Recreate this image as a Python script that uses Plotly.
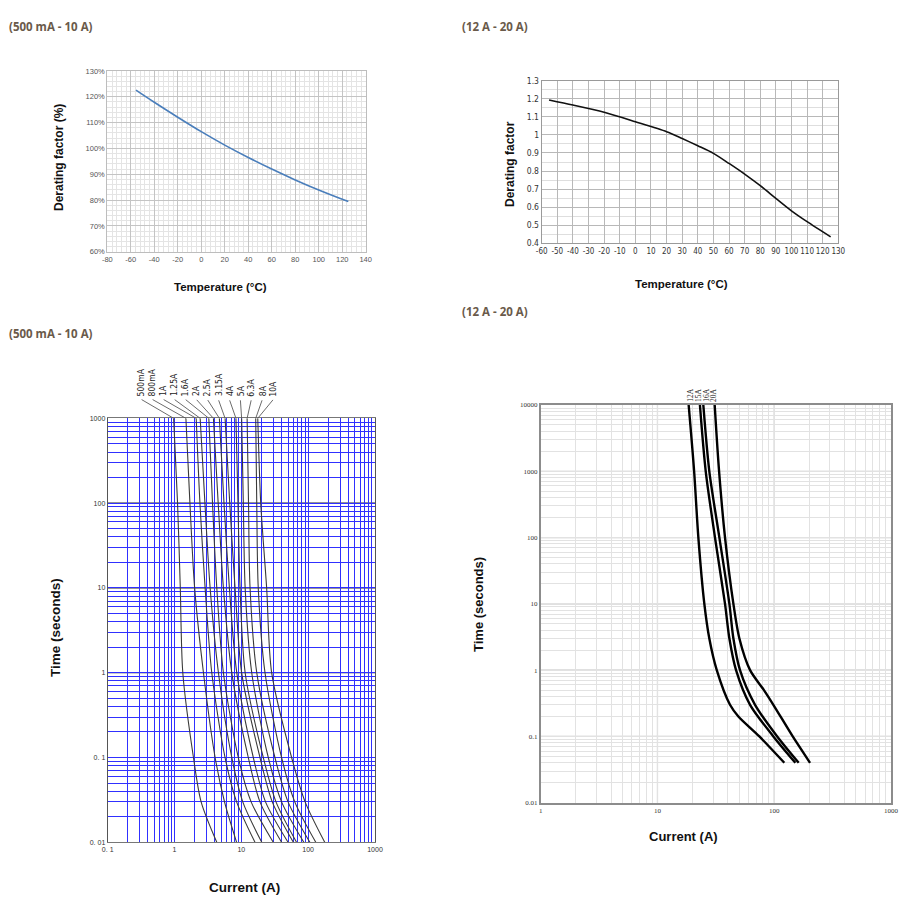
import numpy as np
import plotly.graph_objects as go

# page body has an 8px default margin; keep the figure inside the 918x913 window
PAGE_W, PAGE_H = 918, 913
OFF = 8
W, H = PAGE_W - 2 * OFF, PAGE_H - 2 * OFF

# ---------------- data ----------------
# Top-left: derating (500 mA - 10 A)
tl_temp = [-55.6, -40, -20, 0, 20, 40, 60, 80, 100, 125.2]
tl_factor = [122.6, 117.9, 112.1, 106.5, 101.3, 96.5, 92.0, 87.8, 83.9, 79.4]

# Top-right: derating (12 A - 20 A)
tr_temp = [-55.3, -40, -20, 0, 20, 30, 40, 50, 60, 70, 80, 90, 100, 110, 125.1]
tr_factor = [1.193, 1.165, 1.125, 1.073, 1.018, 0.98, 0.94, 0.898, 0.842, 0.783,
             0.719, 0.649, 0.58, 0.52, 0.436]

# Bottom-left: time-current curves (500 mA - 10 A)
bl_time = [1000, 100, 10, 1, 0.1, 0.03, 0.01]
bl_labels = ["500mA", "800mA", "1A", "1.25A", "1.6A", "2A", "2.5A",
             "3.15A", "4A", "5A", "6.3A", "8A", "10A"]
c_500mA = [0.97, 1.11, 1.22, 1.33, 1.92, 2.5, 4.29]
c_800mA = [1.48, 1.7, 2.0, 2.71, 4.05, 5.6, 8.5]
c_1A = [2.11, 2.4, 2.87, 3.61, 5.7, 8.5, 16]
c_1_25A = [2.42, 2.85, 3.41, 4.54, 7.2, 10.5, 20.2]
c_1_6A = [3.26, 3.7, 4.29, 5.39, 9.0, 14, 30]
c_2A = [3.82, 4.5, 5.39, 7.19, 12.7, 19, 40]
c_2_5A = [4.69, 5.5, 6.62, 8.54, 15.1, 23, 50]
c_3_15A = [5.71, 6.7, 8.05, 10.1, 19, 29, 60]
c_4A = [8.3, 8.9, 9.56, 11.4, 21.3, 33, 67]
c_5A = [10.1, 10.7, 11.4, 14.3, 25.3, 40, 86]
c_6_3A = [12.2, 12.8, 13.5, 17.0, 31.8, 50, 106]
c_8A = [16.4, 17.0, 17.9, 22.6, 40, 63, 130]
c_10A = [17.6, 19.5, 23.9, 28.4, 56.5, 90, 177]
bl_curves = [c_500mA, c_800mA, c_1A, c_1_25A, c_1_6A, c_2A, c_2_5A,
             c_3_15A, c_4A, c_5A, c_6_3A, c_8A, c_10A]

# Bottom-right: time-current curves (12 A - 20 A)
br_labels = ["12A", "15A", "16A", "20A"]
t_12A = [10000, 1000, 100, 10, 3, 1, 0.3, 0.2, 0.1, 0.04]
i_12A = [18.5, 20.6, 22.4, 25.2, 27.8, 32.2, 41.8, 49.3, 74.6, 122]
t_15A = [10000, 1000, 100, 10, 3, 1, 0.3, 0.1, 0.04]
i_15A = [23.1, 25.9, 31.1, 37.9, 41.3, 47.1, 62.1, 98.3, 151.7]
t_16A = [10000, 1000, 100, 10, 3, 1, 0.3, 0.1, 0.04]
i_16A = [24.7, 27.8, 33.9, 41.3, 44.7, 50.9, 68.5, 106, 162]
t_20A = [10000, 1000, 100, 10, 3, 1, 0.5, 0.3, 0.1, 0.04]
i_20A = [30.9, 33.7, 37.9, 44.7, 50.3, 62.1, 81.6, 98.3, 144, 202.6]
br_t = [t_12A, t_15A, t_16A, t_20A]
br_i = [i_12A, i_15A, i_16A, i_20A]

# tick labels
tl_xticks = [-80, -60, -40, -20, 0, 20, 40, 60, 80, 100, 120, 140]
tr_xticks = [-60, -50, -40, -30, -20, -10, 0, 10, 20, 30, 40, 50, 60, 70, 80, 90, 100, 110, 120, 130]
tr_yticks = [0.4, 0.5, 0.6, 0.7, 0.8, 0.9, 1.0, 1.1, 1.2, 1.3]
tr_ytext = ["0.4", "0.5", "0.6", "0.7", "0.8", "0.9", "1", "1.1", "1.2", "1.3"]
bl_xtext = ["0. 1", "1", "10", "100", "1000"]
bl_ytext = ["0. 01", "0. 1", "1", "10", "100", "1000"]
br_xtext = ["1", "10", "100", "1000"]
br_ytext = ["0.01", "0.1", "1", "10", "100", "1000", "10000"]

# ---------------- helpers ----------------
def px(x):
    return (x - OFF) / W

def py(y):
    return 1 - (y - OFF) / H

TITLE_COLOR = "#6a5a4a"
AX_FONT = "Liberation Sans, Arial, sans-serif"
NARROW = "DejaVu Sans Condensed, Liberation Sans Narrow, Arial Narrow, Liberation Sans, sans-serif"
SERIF = "Liberation Serif, Times New Roman, serif"
BLUE = "#3030ff"

def log_grid(lo, hi):
    vals = []
    for d in range(lo, hi):
        for k in range(1, 10):
            vals.append(k * 10.0 ** d)
    vals.append(10.0 ** hi)
    return vals

def labels_for(grid, text, lo):
    out = []
    for g in grid:
        lg = np.log10(g)
        out.append(text[int(round(lg)) - lo] if abs(lg - round(lg)) < 1e-9 else "")
    return out

fig = go.Figure()

fig.add_trace(go.Scatter(x=tl_temp, y=tl_factor, mode="lines",
                         line=dict(color="#4a7ebb", width=1.6, shape="spline", smoothing=1.0),
                         xaxis="x", yaxis="y", showlegend=False, hoverinfo="skip"))
fig.add_trace(go.Scatter(x=tr_temp, y=tr_factor, mode="lines",
                         line=dict(color="#111111", width=1.6, shape="spline", smoothing=0.8),
                         xaxis="x2", yaxis="y2", showlegend=False, hoverinfo="skip"))
for lab, cur in zip(bl_labels, bl_curves):
    fig.add_trace(go.Scatter(x=cur, y=bl_time, mode="lines", name=lab,
                             line=dict(color="#3a3a3a", width=1.1, shape="spline", smoothing=0.8),
                             xaxis="x3", yaxis="y3", showlegend=False, hoverinfo="skip"))
for lab, tt, ii in zip(br_labels, br_t, br_i):
    fig.add_trace(go.Scatter(x=ii, y=tt, mode="lines", name=lab,
                             line=dict(color="#000000", width=2.4, shape="spline", smoothing=0.8),
                             xaxis="x4", yaxis="y4", showlegend=False, hoverinfo="skip"))

bl_xgrid = log_grid(-1, 3)
bl_ygrid = log_grid(-2, 3)
br_xgrid = log_grid(0, 3)
br_ygrid = log_grid(-2, 4)

layout = dict(
    width=W, height=H,
    margin=dict(l=0, r=0, t=0, b=0, autoexpand=False),
    paper_bgcolor="white", plot_bgcolor="white",
    showlegend=False,
    # Top-left
    xaxis=dict(domain=[px(107.3), px(365.7)], range=[-80, 140],
               tickvals=tl_xticks, ticktext=[str(v) for v in tl_xticks], tickangle=0,
               showgrid=True, gridcolor="#c4c4c4", gridwidth=1, zeroline=False,
               minor=dict(dtick=4, tick0=-80, showgrid=True, gridcolor="#e4e4e4", gridwidth=1),
               showline=True, linecolor="#bdbdbd", mirror=True,
               tickfont=dict(size=7.5, color="#555", family=AX_FONT), anchor="y", automargin=False),
    yaxis=dict(domain=[py(251.7), py(71)], range=[60, 130], dtick=10, ticksuffix="%",
               showgrid=True, gridcolor="#c4c4c4", gridwidth=1, zeroline=False,
               minor=dict(dtick=2, showgrid=True, gridcolor="#e4e4e4", gridwidth=1),
               showline=True, linecolor="#bdbdbd", mirror=True,
               tickfont=dict(size=7.5, color="#555", family=AX_FONT), anchor="x", automargin=False),
    # Top-right
    xaxis2=dict(domain=[px(541.7), px(838.3)], range=[-60, 130],
                tickvals=tr_xticks, ticktext=[str(v) for v in tr_xticks], tickangle=0,
                showgrid=True, gridcolor="#b8b8b8", gridwidth=1, zeroline=False,
                showline=True, linecolor="#9a9a9a", mirror=True,
                tickfont=dict(size=8, color="#333", family=NARROW), anchor="y2", automargin=False),
    yaxis2=dict(domain=[py(243.3), py(80.7)], range=[0.4, 1.3],
                tickvals=tr_yticks, ticktext=tr_ytext,
                showgrid=True, gridcolor="#b8b8b8", gridwidth=1, zeroline=False,
                minor=dict(tickvals=[0.45, 0.55, 0.65, 0.75, 0.85, 0.95, 1.05, 1.15, 1.25],
                           showgrid=True, gridcolor="#dedede", gridwidth=1),
                showline=True, linecolor="#9a9a9a", mirror=True,
                tickfont=dict(size=8.5, color="#333", family=NARROW), anchor="x2", automargin=False),
    # Bottom-left
    xaxis3=dict(domain=[px(107.7), px(375)], type="log", range=[-1, 3],
                tickvals=bl_xgrid, ticktext=labels_for(bl_xgrid, bl_xtext, -1), tickangle=0,
                showgrid=True, gridcolor=BLUE, gridwidth=1.2, zeroline=False,
                showline=True, linecolor="#777", mirror=True,
                tickfont=dict(size=7, color="#333", family=AX_FONT), anchor="y3", automargin=False),
    yaxis3=dict(domain=[py(842.3), py(418.3)], type="log", range=[-2, 3],
                tickvals=bl_ygrid, ticktext=labels_for(bl_ygrid, bl_ytext, -2),
                showgrid=True, gridcolor=BLUE, gridwidth=1.2, zeroline=False,
                showline=True, linecolor="#555", mirror=True,
                tickfont=dict(size=7, color="#333", family=AX_FONT), anchor="x3", automargin=False),
    # Bottom-right
    xaxis4=dict(domain=[px(540.7), px(891)], type="log", range=[0, 3],
                tickvals=br_xgrid, ticktext=labels_for(br_xgrid, br_xtext, 0), tickangle=0,
                showgrid=True, gridcolor="#e2e2e2", gridwidth=1, zeroline=False,
                showline=True, linecolor="#8c8c8c", linewidth=1.5, mirror=True,
                tickfont=dict(size=7, color="#333", family=SERIF), anchor="y4", automargin=False),
    yaxis4=dict(domain=[py(802.7), py(405)], type="log", range=[-2, 4],
                tickvals=br_ygrid, ticktext=labels_for(br_ygrid, br_ytext, -2),
                showgrid=True, gridcolor="#e2e2e2", gridwidth=1, zeroline=False,
                showline=True, linecolor="#8c8c8c", linewidth=1.5, mirror=True,
                tickfont=dict(size=7, color="#333", family=SERIF), anchor="x4", automargin=False),
)
fig.update_layout(**layout)

# darker decade lines
shapes = []
for d in range(-1, 3):
    shapes.append(dict(type="line", xref="x3 domain", yref="y3", x0=0, x1=1, y0=10.0 ** d, y1=10.0 ** d,
                       line=dict(color="#2b2b2b", width=1.2), layer="below"))
for d in range(-1, 4):
    shapes.append(dict(type="line", xref="x4 domain", yref="y4", x0=0, x1=1, y0=10.0 ** d, y1=10.0 ** d,
                       line=dict(color="#c2c2c2", width=1.2), layer="below"))
for d in range(1, 3):
    shapes.append(dict(type="line", xref="x4", yref="y4 domain", x0=10.0 ** d, x1=10.0 ** d, y0=0, y1=1,
                       line=dict(color="#c2c2c2", width=1.2), layer="below"))
fig.update_layout(shapes=shapes)

ann = []
def text_ann(x, y, text, size, color="#111", bold=True, angle=0, family=AX_FONT, xanchor="center"):
    t = f"<b>{text}</b>" if bold else text
    ann.append(dict(x=px(x), y=py(y), xref="paper", yref="paper", text=t, showarrow=False,
                    textangle=angle, xanchor=xanchor, yanchor="middle",
                    font=dict(size=size, color=color, family=family)))

TF = "Open Sans, Liberation Sans, sans-serif"
# Panel titles
text_ann(7, 27, "(500 mA - 10 A)", 11.5, TITLE_COLOR, family=TF, xanchor="left")
text_ann(460, 27, "(12 A - 20 A)", 11.5, TITLE_COLOR, family=TF, xanchor="left")
text_ann(7, 333, "(500 mA - 10 A)", 11.5, TITLE_COLOR, family=TF, xanchor="left")
text_ann(460, 311, "(12 A - 20 A)", 11.5, TITLE_COLOR, family=TF, xanchor="left")

# Axis titles
text_ann(59, 158, "Derating factor (%)", 12, angle=-90)
text_ann(220.5, 287, "Temperature (°C)", 11.5)
text_ann(510, 164, "Derating factor", 12, angle=-90)
text_ann(681, 284, "Temperature (°C)", 11.5)
text_ann(55, 628, "Time (seconds)", 13.5, angle=-90)
text_ann(244, 887, "Current (A)", 13.5)
text_ann(478, 605, "Time (seconds)", 13, angle=-90)
text_ann(683, 836, "Current (A)", 13)

# Bottom-left curve labels (positions in log-current units) + leader lines to curve tops
label_logx = np.linspace(-0.5, 1.48, len(bl_labels))
for lab, cur, lx in zip(bl_labels, bl_curves, label_logx):
    ann.append(dict(x=float(lx), y=np.log10(bl_time[0]), xref="x3", yref="y3", yshift=20,
                    text=lab, textangle=-90, showarrow=False, xanchor="center", yanchor="bottom",
                    font=dict(size=8.5, color="#222", family=NARROW)))
    ann.append(dict(x=np.log10(cur[0]), y=np.log10(bl_time[0]), xref="x3", yref="y3",
                    ax=float(lx), axref="x3", ay=-19, ayref="pixel",
                    text=" ", showarrow=True, arrowhead=0, arrowwidth=0.9, borderpad=0,
                    arrowcolor="#5a5a5a", font=dict(size=1)))

# Bottom-right curve labels
br_label_logx = [1.276, 1.347, 1.413, 1.475]
for lab, lx, tt in zip(br_labels, br_label_logx, br_t):
    ann.append(dict(x=lx, y=np.log10(tt[0]), xref="x4", yref="y4",
                    text=lab, textangle=-90, showarrow=False, xanchor="center", yanchor="bottom",
                    yshift=1, font=dict(size=7.5, color="#222", family=SERIF)))

fig.update_layout(annotations=ann)
fig.write_html("out.html")
